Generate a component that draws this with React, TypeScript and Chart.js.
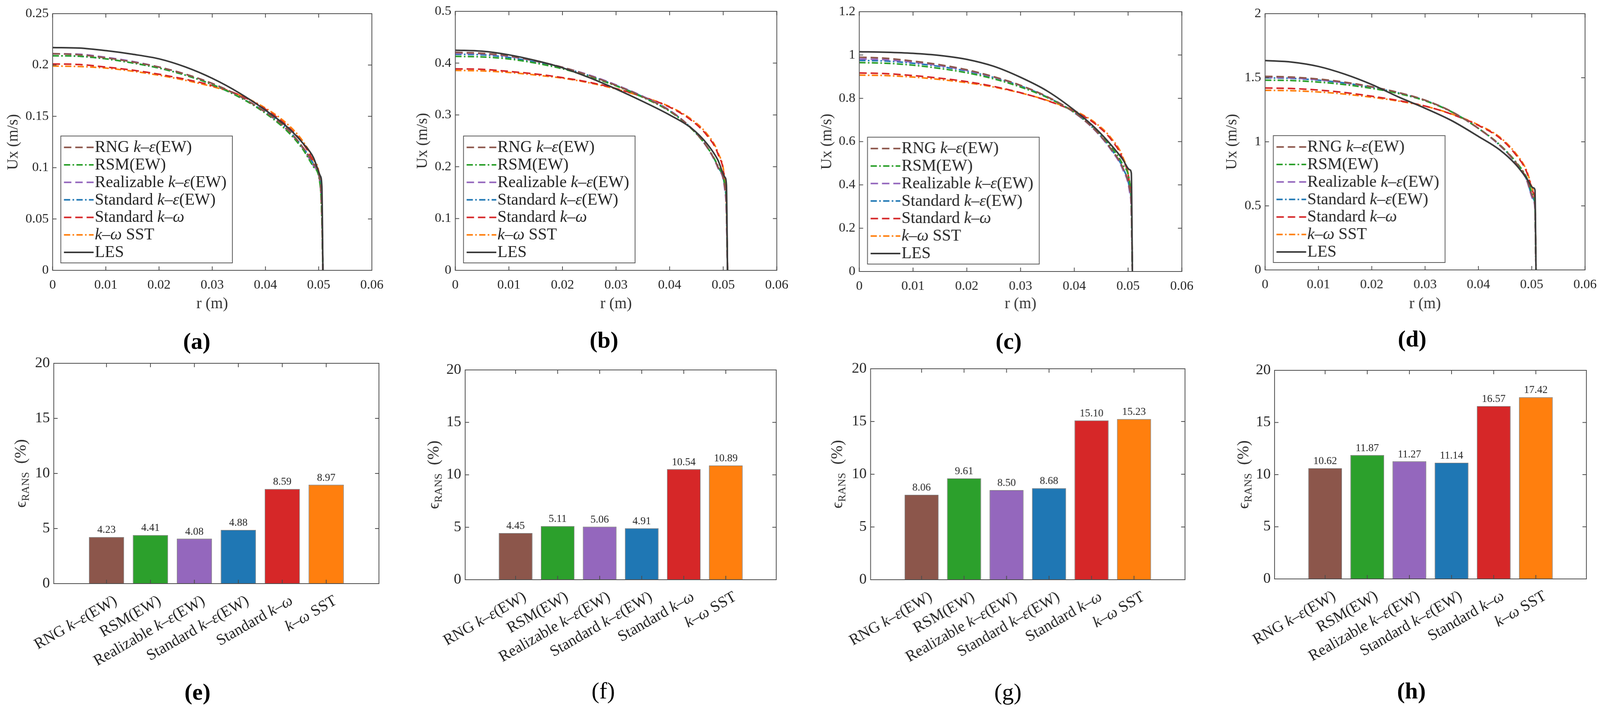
import React, { useEffect, useRef } from 'react';
import { Chart, registerables } from 'chart.js';

Chart.register(...registerables);

const FONT = '"Liberation Serif", "Times New Roman", serif';
const TEXT = '#262626';
const FRAME = '#4d4d4d';

// the figure was laid out 4310 px wide; squeeze horizontally to the real window
const REF_W = 4310;
const PAGE_W = Math.min(REF_W, typeof window !== 'undefined' ? window.innerWidth : REF_W);
const PAGE_H = 1838;
const X = (v: number) => (v * PAGE_W) / REF_W;

// ---- data -------------------------------------------------------------

// radial positions (m), shared by every velocity profile
const rPts = [0, 0.005, 0.01, 0.015, 0.02, 0.025, 0.03, 0.035, 0.04, 0.044, 0.047, 0.049, 0.0503, 0.0506, 0.0508];
const rTicks = [0, 0.01, 0.02, 0.03, 0.04, 0.05, 0.06];

const modelNames = ['RNG k–ε(EW)', 'RSM(EW)', 'Realizable k–ε(EW)', 'Standard k–ε(EW)', 'Standard k–ω', 'k–ω SST'];
const lesName = 'LES';

// (a)
const uxTicksA = [0, 0.05, 0.1, 0.15, 0.2, 0.25];
const rngA = [0.211, 0.21, 0.207, 0.203, 0.198, 0.191, 0.182, 0.17, 0.154, 0.138, 0.12, 0.104, 0.085, 0.06, 0];
const rsmA = [0.209, 0.2085, 0.206, 0.202, 0.197, 0.19, 0.181, 0.169, 0.153, 0.136, 0.118, 0.101, 0.082, 0.05, 0];
const realA = [0.211, 0.2105, 0.2075, 0.2035, 0.198, 0.191, 0.182, 0.17, 0.154, 0.137, 0.119, 0.102, 0.083, 0.055, 0];
const stdKeA = [0.209, 0.2085, 0.206, 0.202, 0.197, 0.19, 0.181, 0.169, 0.154, 0.138, 0.12, 0.104, 0.086, 0.06, 0];
const stdKwA = [0.201, 0.2005, 0.198, 0.195, 0.191, 0.186, 0.18, 0.171, 0.157, 0.141, 0.124, 0.106, 0.083, 0.05, 0];
const sstA = [0.199, 0.1985, 0.197, 0.194, 0.19, 0.185, 0.179, 0.171, 0.158, 0.143, 0.126, 0.108, 0.085, 0.055, 0];
const lesA = [0.217, 0.2165, 0.214, 0.2105, 0.206, 0.198, 0.187, 0.173, 0.156, 0.14, 0.124, 0.11, 0.092, 0.082, 0];

// (b)
const uxTicksB = [0, 0.1, 0.2, 0.3, 0.4, 0.5];
const rngB = [0.421, 0.419, 0.414, 0.404, 0.392, 0.376, 0.357, 0.335, 0.308, 0.275, 0.238, 0.2, 0.16, 0.12, 0];
const rsmB = [0.413, 0.412, 0.408, 0.4, 0.389, 0.374, 0.356, 0.334, 0.307, 0.274, 0.238, 0.202, 0.165, 0.13, 0];
const realB = [0.419, 0.418, 0.413, 0.404, 0.392, 0.377, 0.358, 0.336, 0.309, 0.275, 0.237, 0.198, 0.155, 0.11, 0];
const stdKeB = [0.417, 0.416, 0.411, 0.402, 0.391, 0.376, 0.357, 0.335, 0.308, 0.275, 0.238, 0.2, 0.16, 0.12, 0];
const stdKwB = [0.389, 0.388, 0.384, 0.379, 0.372, 0.363, 0.351, 0.335, 0.315, 0.29, 0.26, 0.225, 0.17, 0.12, 0];
const sstB = [0.386, 0.385, 0.382, 0.377, 0.371, 0.362, 0.35, 0.335, 0.316, 0.292, 0.263, 0.228, 0.175, 0.13, 0];
const lesB = [0.425, 0.423, 0.416, 0.405, 0.391, 0.372, 0.35, 0.326, 0.3, 0.275, 0.244, 0.213, 0.18, 0.165, 0];

// (c)
const uxTicksC = [0, 0.2, 0.4, 0.6, 0.8, 1, 1.2];
const rngC = [0.99, 0.985, 0.972, 0.955, 0.932, 0.9, 0.86, 0.807, 0.735, 0.65, 0.56, 0.48, 0.38, 0.3, 0];
const rsmC = [0.965, 0.962, 0.953, 0.938, 0.918, 0.89, 0.852, 0.803, 0.735, 0.655, 0.57, 0.495, 0.41, 0.32, 0];
const realC = [0.982, 0.978, 0.967, 0.951, 0.929, 0.898, 0.859, 0.806, 0.734, 0.648, 0.556, 0.472, 0.365, 0.28, 0];
const stdKeC = [0.975, 0.972, 0.962, 0.947, 0.926, 0.896, 0.857, 0.805, 0.734, 0.65, 0.56, 0.48, 0.38, 0.3, 0];
const stdKwC = [0.917, 0.914, 0.905, 0.893, 0.877, 0.855, 0.826, 0.789, 0.74, 0.68, 0.605, 0.52, 0.4, 0.3, 0];
const sstC = [0.907, 0.905, 0.898, 0.887, 0.872, 0.852, 0.825, 0.79, 0.743, 0.685, 0.612, 0.53, 0.41, 0.32, 0];
const lesC = [1.015, 1.013, 1.008, 0.998, 0.98, 0.948, 0.897, 0.833, 0.745, 0.66, 0.58, 0.518, 0.47, 0.455, 0];

// (d)
const uxTicksD = [0, 0.5, 1, 1.5, 2];
const rngD = [1.511, 1.505, 1.49, 1.465, 1.43, 1.385, 1.325, 1.235, 1.105, 0.975, 0.84, 0.715, 0.56, 0.5, 0];
const rsmD = [1.481, 1.478, 1.466, 1.446, 1.417, 1.377, 1.32, 1.233, 1.105, 0.978, 0.845, 0.725, 0.58, 0.52, 0];
const realD = [1.503, 1.498, 1.484, 1.46, 1.427, 1.383, 1.324, 1.235, 1.104, 0.972, 0.835, 0.705, 0.54, 0.48, 0];
const stdKeD = [1.499, 1.495, 1.481, 1.458, 1.425, 1.382, 1.323, 1.234, 1.104, 0.973, 0.838, 0.71, 0.555, 0.5, 0];
const stdKwD = [1.42, 1.416, 1.404, 1.384, 1.356, 1.322, 1.279, 1.215, 1.128, 1.03, 0.9, 0.77, 0.6, 0.52, 0];
const sstD = [1.402, 1.399, 1.389, 1.372, 1.348, 1.318, 1.278, 1.217, 1.132, 1.037, 0.91, 0.78, 0.615, 0.54, 0];
const lesD = [1.634, 1.622, 1.588, 1.527, 1.447, 1.35, 1.262, 1.165, 1.042, 0.937, 0.823, 0.718, 0.64, 0.625, 0];

// (e)-(h) relative error of each RANS model, %
const errTicks = [0, 5, 10, 15, 20];
const errE = [4.23, 4.41, 4.08, 4.88, 8.59, 8.97];
const errF = [4.45, 5.11, 5.06, 4.91, 10.54, 10.89];
const errG = [8.06, 9.61, 8.5, 8.68, 15.1, 15.23];
const errH = [10.62, 11.87, 11.27, 11.14, 16.57, 17.42];

// ---- styles -------------------------------------------------------------

const modelColors = ['#8c564b', '#2ca02c', '#9467bd', '#1f77b4', '#d62728', '#ff7f0e'];
const lesColor = '#3a3a3a';
const dashed = [19, 10];
const dashDot = [16, 6, 4, 6];
const modelDash = [dashed, dashDot, dashed, dashDot, dashed, dashDot];

const fmt = (v: number) => String(Number(Number(v).toFixed(3)));

// keep Chart.js from pushing the plot area around for overhanging labels
const noPad = (s: any) => {
  s.paddingLeft = 0;
  s.paddingRight = 0;
  s.paddingTop = 0;
  s.paddingBottom = 0;
};

// draws "k–ε" / "k–ω" in italics, the rest upright
function drawRich(ctx: CanvasRenderingContext2D, text: string, x: number, y: number, size: number, draw = true) {
  let cx = x;
  for (const p of text.split(/(k–ε|k–ω)/)) {
    if (!p) continue;
    ctx.font = `${p.startsWith('k–') ? 'italic ' : ''}${size}px ${FONT}`;
    if (draw) ctx.fillText(p, cx, y);
    cx += ctx.measureText(p).width;
  }
  return cx - x;
}

// MATLAB style box with inward ticks on all four sides
const framePlugin = {
  id: 'frame',
  afterDatasetsDraw(chart: any) {
    const { ctx, chartArea: a, scales } = chart;
    const len = 10;
    ctx.save();
    ctx.strokeStyle = FRAME;
    ctx.lineWidth = 2;
    ctx.beginPath();
    scales.x.ticks.forEach((t: any) => {
      const px = scales.x.getPixelForValue(t.value);
      ctx.moveTo(px, a.bottom); ctx.lineTo(px, a.bottom - len);
      ctx.moveTo(px, a.top); ctx.lineTo(px, a.top + len);
    });
    scales.y.ticks.forEach((t: any) => {
      const py = scales.y.getPixelForValue(t.value);
      ctx.moveTo(a.left, py); ctx.lineTo(a.left + len, py);
      ctx.moveTo(a.right, py); ctx.lineTo(a.right - len, py);
    });
    ctx.stroke();
    ctx.strokeRect(a.left, a.top, a.right - a.left, a.bottom - a.top);
    ctx.restore();
  },
};

// legend box in the lower left corner of the profile plots
const profileLegend = {
  id: 'profileLegend',
  afterDraw(chart: any) {
    const { ctx, chartArea: a } = chart;
    const sets = chart.data.datasets;
    const size = 42;
    const rowGap = 44.8;
    let textW = 0;
    sets.forEach((d: any) => { textW = Math.max(textW, drawRich(ctx, d.label, 0, 0, size, false)); });
    const w = 88 + textW + 14;
    const h = 29 + 27 + rowGap * (sets.length - 1);
    const left = a.left + 21;
    const top = a.bottom - 19 - h;
    ctx.save();
    ctx.fillStyle = '#fff';
    ctx.fillRect(left, top, w, h);
    ctx.strokeStyle = '#5a5a5a';
    ctx.lineWidth = 2;
    ctx.strokeRect(left, top, w, h);
    sets.forEach((d: any, i: number) => {
      const y = top + 29 + i * rowGap;
      ctx.strokeStyle = d.borderColor;
      ctx.lineWidth = d.borderWidth;
      ctx.setLineDash(d.borderDash || []);
      ctx.beginPath();
      ctx.moveTo(left + 8, y);
      ctx.lineTo(left + 84, y);
      ctx.stroke();
      ctx.setLineDash([]);
      ctx.fillStyle = TEXT;
      ctx.textBaseline = 'middle';
      drawRich(ctx, d.label, left + 87, y + 1, size);
    });
    ctx.restore();
  },
};

const barValues = {
  id: 'barValues',
  afterDatasetsDraw(chart: any) {
    const { ctx } = chart;
    const meta = chart.getDatasetMeta(0);
    const data = chart.data.datasets[0].data;
    ctx.save();
    ctx.font = `27px ${FONT}`;
    ctx.fillStyle = TEXT;
    ctx.textAlign = 'center';
    ctx.textBaseline = 'bottom';
    meta.data.forEach((el: any, i: number) => ctx.fillText(data[i].y.toFixed(2), el.x, el.y - 4));
    ctx.restore();
  },
};

// category names under the bars, turned 30 degrees, ending at their tick
const slantLabels = {
  id: 'slantLabels',
  afterDraw(chart: any) {
    const { ctx, chartArea: a, scales } = chart;
    const size = 40;
    ctx.save();
    ctx.fillStyle = TEXT;
    ctx.textBaseline = 'top';
    chart.data.labels.forEach((name: string, i: number) => {
      const px = scales.x.getPixelForValue(i + 1);
      const w = drawRich(ctx, name, 0, 0, size, false);
      ctx.save();
      ctx.translate(px + 14, a.bottom + 24);
      ctx.rotate(-Math.PI / 6);
      drawRich(ctx, name, -w, 0, size);
      ctx.restore();
    });
    ctx.restore();
  },
};

// ϵ_RANS (%) y title with subscript
const errTitle = {
  id: 'errTitle',
  afterDraw(chart: any, _args: any, opts: any) {
    const { ctx, chartArea: a } = chart;
    const big = 42;
    const small = 28;
    ctx.save();
    ctx.fillStyle = '#333';
    ctx.textBaseline = 'alphabetic';
    ctx.font = `${big}px ${FONT}`;
    const w1 = ctx.measureText('ϵ').width;
    const w3 = ctx.measureText('  (%)').width;
    ctx.font = `${small}px ${FONT}`;
    const w2 = ctx.measureText('RANS').width;
    const total = w1 + w2 + w3;
    ctx.translate(opts.x + 12, (a.top + a.bottom) / 2);
    ctx.rotate(-Math.PI / 2);
    let x = -total / 2;
    ctx.font = `${big}px ${FONT}`;
    ctx.fillText('ϵ', x, 0);
    x += w1;
    ctx.font = `${small}px ${FONT}`;
    ctx.fillText('RANS', x, 8);
    x += w2;
    ctx.font = `${big}px ${FONT}`;
    ctx.fillText('  (%)', x, 0);
    ctx.restore();
  },
};

// ---- panels -------------------------------------------------------------

interface ProfileProps {
  plot: number[];
  titleX: number;
  series: number[][];
  yTicks: number[];
}

const ProfilePanel: React.FC<ProfileProps> = ({ plot, titleX, series, yTicks }) => {
  const chartRef = useRef<HTMLCanvasElement | null>(null);
  const L = X(plot[0]);
  const T = plot[1];
  const R = X(plot[2]);
  const B = plot[3];
  const box = { left: X(titleX) - 23, top: T - 22, right: Math.min(R + 42, PAGE_W), bottom: 802 };

  useEffect(() => {
    const ctx = chartRef.current?.getContext('2d');
    if (!ctx) return;

    const datasets: any[] = modelNames.map((name, i) => ({
      label: name,
      data: rPts.map((x, j) => ({ x, y: series[i][j] })),
      borderColor: modelColors[i],
      borderDash: modelDash[i],
      borderWidth: 4,
      pointRadius: 0,
      cubicInterpolationMode: 'monotone',
      fill: false,
    }));
    datasets.push({
      label: lesName,
      data: rPts.map((x, j) => ({ x, y: series[6][j] })),
      borderColor: lesColor,
      borderWidth: 4,
      pointRadius: 0,
      cubicInterpolationMode: 'monotone',
      fill: false,
      order: -1,
    });

    const chart = new Chart(ctx, {
      type: 'line',
      data: { datasets },
      plugins: [framePlugin, profileLegend],
      options: {
        animation: false,
        responsive: true,
        maintainAspectRatio: false,
        layout: { padding: { top: T - box.top, right: box.right - R, left: 0, bottom: 0 } },
        plugins: { legend: { display: false }, tooltip: { enabled: false } },
        scales: {
          x: {
            type: 'linear',
            min: rTicks[0],
            max: rTicks[rTicks.length - 1],
            afterBuildTicks: (s: any) => { s.ticks = rTicks.map((v) => ({ value: v })); },
            afterFit: (s: any) => { s.height = box.bottom - B; noPad(s); },
            grid: { display: false, drawTicks: false },
            border: { display: false },
            ticks: { padding: 18, color: TEXT, font: { family: FONT, size: 34 }, maxRotation: 0, autoSkip: false, callback: (v: any) => fmt(v) },
            title: { display: true, text: 'r (m)', color: '#333', font: { family: FONT, size: 40 }, padding: 0 },
          },
          y: {
            type: 'linear',
            min: yTicks[0],
            max: yTicks[yTicks.length - 1],
            afterBuildTicks: (s: any) => { s.ticks = yTicks.map((v) => ({ value: v })); },
            afterFit: (s: any) => { s.width = L - box.left; noPad(s); },
            grid: { display: false, drawTicks: false },
            border: { display: false },
            ticks: { padding: 10, color: TEXT, font: { family: FONT, size: 34 }, autoSkip: false, callback: (v: any) => fmt(v) },
            title: { display: true, text: 'Ux (m/s)', color: '#333', font: { family: FONT, size: 40 }, padding: 0 },
          },
        },
      } as any,
    });

    return () => chart.destroy();
  }, []);

  return (
    <div style={{ position: 'absolute', left: box.left, top: box.top, width: box.right - box.left, height: box.bottom - box.top }}>
      <canvas ref={chartRef} />
    </div>
  );
};

interface ErrorProps {
  plot: number[];
  titleX: number;
  values: number[];
}

const ErrorPanel: React.FC<ErrorProps> = ({ plot, titleX, values }) => {
  const chartRef = useRef<HTMLCanvasElement | null>(null);
  const L = X(plot[0]);
  const T = plot[1];
  const R = X(plot[2]);
  const B = plot[3];
  const box = { left: X(titleX) - 25, top: T - 25, right: Math.min(R + 28, PAGE_W), bottom: 1730 };

  useEffect(() => {
    const ctx = chartRef.current?.getContext('2d');
    if (!ctx) return;

    const chart = new Chart(ctx, {
      type: 'bar',
      data: {
        labels: modelNames,
        datasets: [
          {
            data: values.map((v, i) => ({ x: i + 1, y: v })),
            backgroundColor: modelColors,
            borderColor: 'rgba(70,70,70,0.75)',
            borderWidth: 1.5,
            barPercentage: 0.8,
            categoryPercentage: 1,
          },
        ],
      },
      plugins: [framePlugin, barValues, slantLabels, errTitle],
      options: {
        animation: false,
        responsive: true,
        maintainAspectRatio: false,
        layout: { padding: { top: T - box.top, right: box.right - R, left: 0, bottom: 0 } },
        plugins: { legend: { display: false }, tooltip: { enabled: false }, errTitle: { x: X(titleX) - box.left } },
        scales: {
          x: {
            type: 'linear',
            offset: false,
            min: -0.2,
            max: modelNames.length + 1.2,
            afterBuildTicks: (s: any) => { s.ticks = modelNames.map((_, i) => ({ value: i + 1 })); },
            afterFit: (s: any) => { s.height = box.bottom - B; noPad(s); },
            grid: { display: false, drawTicks: false, offset: false },
            border: { display: false },
            ticks: { display: false },
          },
          y: {
            type: 'linear',
            min: errTicks[0],
            max: errTicks[errTicks.length - 1],
            afterBuildTicks: (s: any) => { s.ticks = errTicks.map((v) => ({ value: v })); },
            afterFit: (s: any) => { s.width = L - box.left; noPad(s); },
            grid: { display: false, drawTicks: false },
            border: { display: false },
            ticks: { padding: 10, color: TEXT, font: { family: FONT, size: 38 }, autoSkip: false },
          },
        },
      } as any,
    });

    return () => chart.destroy();
  }, []);

  return (
    <div style={{ position: 'absolute', left: box.left, top: box.top, width: box.right - box.left, height: box.bottom - box.top }}>
      <canvas ref={chartRef} />
    </div>
  );
};

const Tag: React.FC<{ x: number; y: number; text: string; bold?: boolean }> = ({ x, y, text, bold }) => (
  <div
    style={{
      position: 'absolute',
      left: X(x),
      top: y,
      transform: 'translate(-50%, -50%)',
      fontFamily: FONT,
      fontSize: 60,
      fontWeight: bold ? 700 : 400,
      lineHeight: 1,
      color: '#000',
      whiteSpace: 'nowrap',
    }}
  >
    {text}
  </div>
);

export default function App() {
  useEffect(() => {
    document.body.style.margin = '0';
  }, []);

  return (
    <div style={{ position: 'relative', width: PAGE_W, height: PAGE_H, overflow: 'hidden', background: '#fff' }}>
      <ProfilePanel plot={[142, 35, 1002, 692]} titleX={35} yTicks={uxTicksA} series={[rngA, rsmA, realA, stdKeA, stdKwA, sstA, lesA]} />
      <ProfilePanel plot={[1226, 29, 2092, 692]} titleX={1137} yTicks={uxTicksB} series={[rngB, rsmB, realB, stdKeB, stdKwB, sstB, lesB]} />
      <ProfilePanel plot={[2315, 30, 3183, 695]} titleX={2227} yTicks={uxTicksC} series={[rngC, rsmC, realC, stdKeC, stdKwC, sstC, lesC]} />
      <ProfilePanel plot={[3408, 35, 4269, 691]} titleX={3318} yTicks={uxTicksD} series={[rngD, rsmD, realD, stdKeD, stdKwD, sstD, lesD]} />

      <ErrorPanel plot={[145, 930, 1021, 1494]} titleX={57} values={errE} />
      <ErrorPanel plot={[1253, 947, 2091, 1484]} titleX={1169} values={errF} />
      <ErrorPanel plot={[2345, 944, 3191, 1484]} titleX={2256} values={errG} />
      <ErrorPanel plot={[3433, 948, 4273, 1482]} titleX={3350} values={errH} />

      <Tag x={530} y={873} text="(a)" bold />
      <Tag x={1627} y={870} text="(b)" bold />
      <Tag x={2717} y={873} text="(c)" bold />
      <Tag x={3804} y={867} text="(d)" bold />
      <Tag x={532} y={1771} text="(e)" bold />
      <Tag x={1625} y={1768} text="(f)" />
      <Tag x={2715} y={1771} text="(g)" />
      <Tag x={3802} y={1768} text="(h)" bold />
    </div>
  );
}
